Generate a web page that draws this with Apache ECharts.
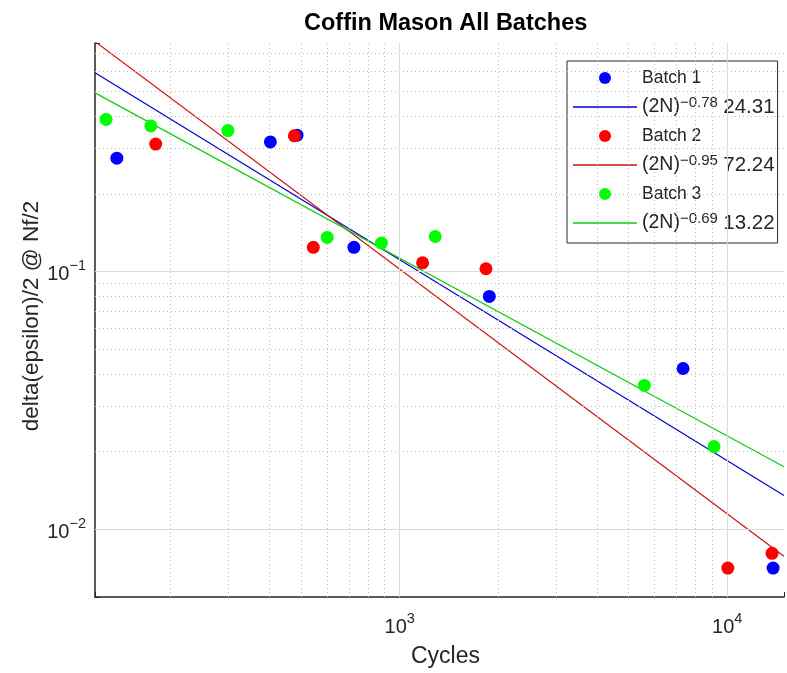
<!DOCTYPE html>
<html><head><meta charset="utf-8">
<script src="https://cdn.jsdelivr.net/npm/echarts@6/dist/echarts.min.js"></script>
<style>html,body{margin:0;padding:0;background:#fff}#c{width:787px;height:673px}</style>
</head><body><div id="c"></div>
<script>
// Data
const batch1X = [137, 403, 486, 725, 1878, 7330, 13800];
const batch1Y = [0.275, 0.318, 0.338, 0.124, 0.080, 0.042, 0.00706];
const batch2X = [180, 477, 545, 1175, 1834, 10040, 13700];
const batch2Y = [0.312, 0.336, 0.124, 0.108, 0.1024, 0.00706, 0.00805];
const batch3X = [127, 174, 299, 601, 880, 1284, 5584, 9111];
const batch3Y = [0.389, 0.367, 0.352, 0.1355, 0.1288, 0.1366, 0.0361, 0.0209];
// fitted power-law lines (straight in log-log), end points read at the plot edges
const fitX = [117.5, 14900];
const fit1Y = [0.590, 0.01351];
const fit2Y = [0.780, 0.00784];
const fit3Y = [0.493, 0.01745];
const fitExps = ['\u22120.78', '\u22120.95', '\u22120.69'];
const fitCoefs = ['24.31', '72.24', '13.22'];
// gridlines
const xMajor = [1000, 10000];
const yMajor = [0.01, 0.1];
const xMinor = [200,300,400,500,600,700,800,900,2000,3000,4000,5000,6000,7000,8000,9000];
const yMinor = [0.006,0.007,0.008,0.009,0.02,0.03,0.04,0.05,0.06,0.07,0.08,0.09,0.2,0.3,0.4,0.5,0.6,0.7];
const xMin = 117.5, xMax = 14900, yMin = 0.00545, yMax = 0.77;

const zip = (a, b) => a.map((v, i) => [v, b[i]]);
const FONT = 'Liberation Sans, Arial, Helvetica, sans-serif';
const TXT = '#262626';

function powLabel(v) {
  const l = Math.log10(v);
  const r = Math.round(l);
  if (Math.abs(l - r) < 1e-6) return '{b|10}{s|' + String(r).replace('-', '\u2212') + '}';
  return '';
}
const tickRich = {
  b: {fontSize: 20, fontFamily: FONT, color: TXT, lineHeight: 26, verticalAlign: 'bottom'},
  s: {fontSize: 14.5, fontFamily: FONT, color: TXT, lineHeight: 14, verticalAlign: 'top'}
};

const chart = echarts.init(document.getElementById('c'), null, {renderer: 'canvas'});
const fitLabel = i => '(2N){s|' + fitExps[i] + '} {v|' + fitCoefs[i] + '}';
const nameMap = {
  'Batch 1': '{n|Batch 1}', 'Batch 2': '{n|Batch 2}', 'Batch 3': '{n|Batch 3}',
  'Fit 1': fitLabel(0), 'Fit 2': fitLabel(1), 'Fit 3': fitLabel(2)
};
const lineIcon = 'path://M0,0H64V1.3H0Z';

chart.setOption({
  animation: false,
  backgroundColor: '#fff',
  title: {
    text: 'Coffin Mason All Batches',
    left: 299, top: 7,
    textStyle: {fontFamily: FONT, fontSize: 23.5, fontWeight: 'bold', color: '#000'}
  },
  grid: {left: 95, top: 43, right: 0, bottom: 75, containLabel: false},
  xAxis: {
    type: 'log', min: xMin, max: xMax,
    name: 'Cycles', nameLocation: 'middle', nameGap: 48,
    nameTextStyle: {fontFamily: FONT, fontSize: 23, color: TXT, padding: [0, 0, 0, 12]},
    axisLine: {show: true, lineStyle: {color: TXT, width: 1.5}},
    axisTick: {show: true, inside: true, length: 5, lineStyle: {color: TXT}},
    axisLabel: {formatter: powLabel, rich: tickRich, margin: 14},
    splitLine: {show: false}
  },
  yAxis: {
    type: 'log', min: yMin, max: yMax,
    name: 'delta(epsilon)/2 @ Nf/2', nameLocation: 'middle', nameGap: 52, nameMoveOverlap: false,
    nameTextStyle: {fontFamily: FONT, fontSize: 22.5, color: TXT, padding: [0, 0, 0, 8]},
    axisLine: {show: true, lineStyle: {color: TXT, width: 1.5}},
    axisTick: {show: true, inside: true, length: 5, lineStyle: {color: TXT}},
    axisLabel: {formatter: powLabel, rich: tickRich, margin: 9},
    splitLine: {show: false}
  },
  legend: {
    orient: 'vertical', left: 567, top: 61,
    padding: [5, 3, 8, 6],
    itemGap: 5, itemWidth: 64, itemHeight: 12,
    backgroundColor: '#fff', borderColor: TXT, borderWidth: 1,
    data: [
      {name: 'Batch 1'}, {name: 'Fit 1', icon: lineIcon},
      {name: 'Batch 2'}, {name: 'Fit 2', icon: lineIcon},
      {name: 'Batch 3'}, {name: 'Fit 3', icon: lineIcon}
    ],
    formatter: n => nameMap[n] || n,
    textStyle: {fontFamily: FONT, fontSize: 19.5, color: TXT, lineHeight: 24,
      rich: {
        n: {fontFamily: FONT, fontSize: 17.5, color: TXT, lineHeight: 24},
        v: {fontFamily: FONT, fontSize: 20.5, color: TXT, lineHeight: 24},
        s: {fontFamily: FONT, fontSize: 15, color: TXT, lineHeight: 15, verticalAlign: 'top'}
      }}
  },
  series: [
    {
      name: 'grid', type: 'line', data: [], silent: true,
      markLine: {
        silent: true, symbol: 'none', label: {show: false}, animation: false,
        data: [
          ...xMinor.map(v => ({xAxis: v, lineStyle: {type: [1, 3], color: '#bdbdbd', width: 1}})),
          ...yMinor.map(v => ({yAxis: v, lineStyle: {type: [1, 3], color: '#bdbdbd', width: 1}})),
          ...xMajor.map(v => ({xAxis: v, lineStyle: {type: 'solid', color: '#dadada', width: 1}})),
          ...yMajor.map(v => ({yAxis: v, lineStyle: {type: 'solid', color: '#dadada', width: 1}}))
        ]
      }
    },
    {name: 'Batch 1', type: 'scatter', data: zip(batch1X, batch1Y), symbol: 'circle', symbolSize: 13, itemStyle: {color: '#0000ff', opacity: 1}, z: 5},
    {name: 'Fit 1', type: 'line', data: zip(fitX, fit1Y), showSymbol: false, symbol: 'none', lineStyle: {color: '#0000cc', width: 1.2}, itemStyle: {color: '#0000cc'}, z: 4},
    {name: 'Batch 2', type: 'scatter', data: zip(batch2X, batch2Y), symbol: 'circle', symbolSize: 13, itemStyle: {color: '#ff0000', opacity: 1}, z: 5},
    {name: 'Fit 2', type: 'line', data: zip(fitX, fit2Y), showSymbol: false, symbol: 'none', lineStyle: {color: '#cc1010', width: 1.2}, itemStyle: {color: '#cc1010'}, z: 4},
    {name: 'Batch 3', type: 'scatter', data: zip(batch3X, batch3Y), symbol: 'circle', symbolSize: 13, itemStyle: {color: '#00ff00', opacity: 1}, z: 5},
    {name: 'Fit 3', type: 'line', data: zip(fitX, fit3Y), showSymbol: false, symbol: 'none', lineStyle: {color: '#10cc10', width: 1.2}, itemStyle: {color: '#10cc10'}, z: 4}
  ]
});
</script></body></html>
